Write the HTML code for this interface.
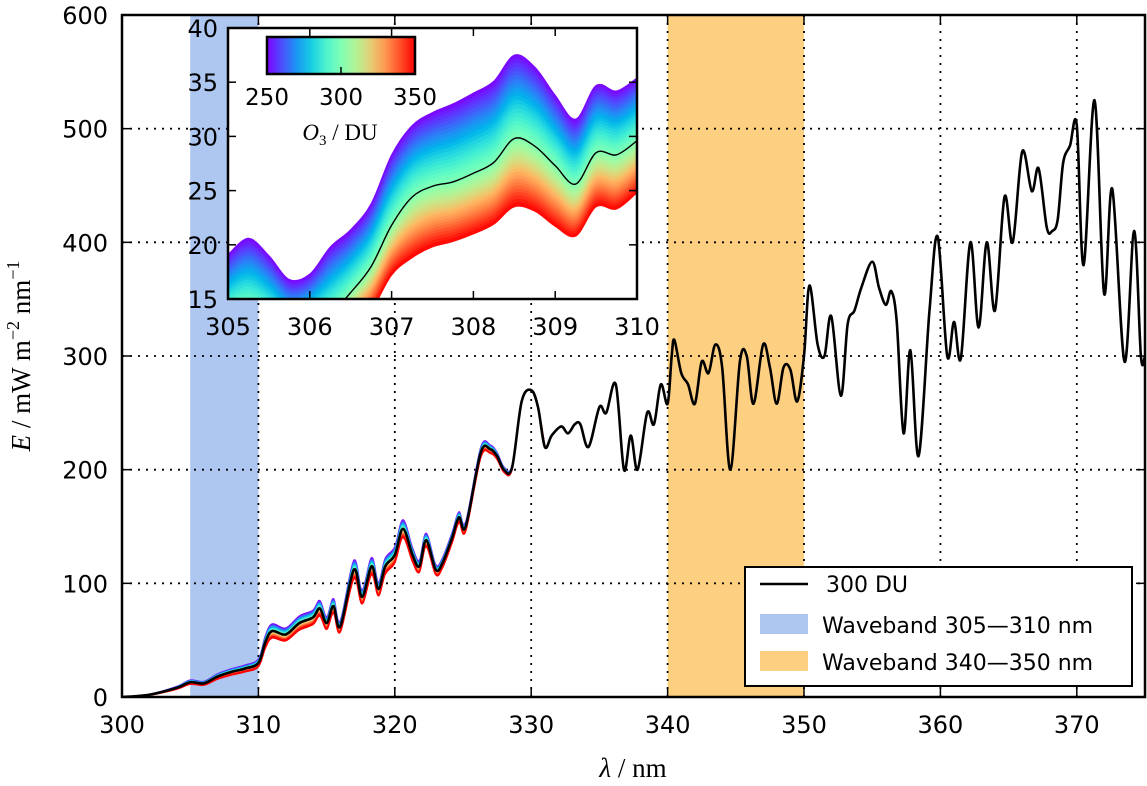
<!DOCTYPE html>
<html><head><meta charset="utf-8">
<style>
html,body{margin:0;padding:0;background:#fff;}
svg{display:block;font-family:"DejaVu Sans","Liberation Sans",sans-serif;}
</style></head>
<body>
<svg id="chart" width="1147" height="786" viewBox="0 0 1147 786" xmlns="http://www.w3.org/2000/svg">
<defs>
<clipPath id="mainClip"><rect x="122" y="15" width="1023" height="682"/></clipPath>
<clipPath id="insetClip"><rect x="228" y="28" width="409" height="271"/></clipPath>
<linearGradient id="cbar" x1="0" x2="1" y1="0" y2="0"></linearGradient>
</defs>
<g id="main"></g>
<g id="inset"></g>
</svg>
<script>
// ---- main chart data (300 DU spectrum) ----
const lambdas = [300,302,304,305,306,307,308,309,310,310.5,311,312,313,314,314.5,315,315.5,316,317,317.6,318.3,318.8,319.3,320,320.6,321.3,321.8,322.3,323,323.5,324.2,324.7,325.2,326.3,327,327.5,328,328.6,329.3,330,330.5,331,331.5,332.2,332.7,333.2,333.6,334.2,335,335.5,336.2,336.8,337.3,337.8,338.5,339,339.5,340,340.3,340.5,341,341.5,342,342.5,343,343.5,344,344.6,345.3,345.8,346.3,347,347.5,348,348.5,349,349.5,350,350.4,351,351.5,352,352.7,353.2,353.7,354.2,355,355.5,356,356.4,356.8,357.3,357.8,358.4,359.2,359.8,360.5,361,361.5,362.2,362.8,363.4,364,364.7,365.3,366,366.7,367.2,367.8,368.2,368.6,369,369.5,370,370.5,371.3,372,372.6,373.5,374.2,374.7,375];
const irradiance = [0,2,8,13,12,18,22,25,30,48,58,55,65,70,78,65,80,62,112,88,115,95,115,125,148,125,115,138,112,118,140,158,150,215,218,212,200,202,260,270,255,220,230,238,232,240,240,220,255,250,275,200,230,200,250,240,275,258,300,314,285,275,258,295,285,310,290,200,295,300,258,310,290,258,290,288,260,300,362,310,300,335,265,328,340,360,383,360,345,357,330,232,305,212,340,405,300,330,298,400,325,400,340,440,400,480,445,465,413,410,420,470,485,503,380,525,355,447,295,410,300,300];
const xTicks = [300,310,320,330,340,350,360,370];
const yTicks = [0,100,200,300,400,500,600];
const bands = [[305,310],[340,350]];
const duRange = [250,350];

// ---- inset data ----
const insetLambdas = [305.0,305.25,305.5,305.75,306,306.25,306.5,306.75,307,307.25,307.5,307.75,308,308.25,308.5,308.75,309,309.25,309.5,309.75,310];
const insetUpper250 = [19.1,20.6,19.0,16.8,17.3,19.8,21.4,23.8,28.3,31.0,32.2,33.0,34.0,35.1,37.5,36.4,33.8,31.6,34.7,34.2,35.4];
const inset300 = [13.6,14.2,13.3,12.0,12.6,13.6,15.6,18.0,21.8,24.4,25.4,25.8,26.6,27.6,29.8,29.1,27.3,25.6,28.5,28.3,29.6];
const insetLower350 = [10.2,11.0,10.2,9.0,9.5,10.4,12.2,13.9,17.2,18.8,19.8,20.3,21.0,21.9,23.5,23.1,21.7,20.8,23.5,23.3,24.8];
const insetXTicks = [305,306,307,308,309,310];
const insetYTicks = [15,20,25,30,35,40];
const cbarTicks = [250,300,350];

const NS="http://www.w3.org/2000/svg";
function mk(tag,attrs,parent){const e=document.createElementNS(NS,tag);for(const k in attrs)e.setAttribute(k,attrs[k]);parent.appendChild(e);return e;}
function rainbow(x){const r=Math.min(1,Math.abs(2*x-0.5)),g=Math.sin(Math.PI*x),b=Math.cos(Math.PI*x/2);return `rgb(${Math.round(r*255)},${Math.round(g*255)},${Math.round(Math.max(0,b)*255)})`;}
function smooth(pts){let d=`M${pts[0][0]},${pts[0][1]}`;for(let i=0;i<pts.length-1;i++){const p0=pts[i-1]||pts[i],p1=pts[i],p2=pts[i+1],p3=pts[i+2]||p2;const c1x=p1[0]+(p2[0]-p0[0])/6,c1y=p1[1]+(p2[1]-p0[1])/6,c2x=p2[0]-(p3[0]-p1[0])/6,c2y=p2[1]-(p3[1]-p1[1])/6;d+=`C${c1x},${c1y} ${c2x},${c2y} ${p2[0]},${p2[1]}`;}return d;}
function smoothRev(pts){const r=pts.slice().reverse();return smooth(r).replace(/^M/,'L');}

// ---- main axes ----
const X0=122,X1=1145,Y0=697,Y1=15;
const xs=v=>X0+(v-300)/(375-300)*(X1-X0);
const ys=v=>Y0-(v-0)/(600-0)*(Y0-Y1);
const main=document.getElementById('main');

bands.forEach((b,i)=>{
  const r=mk('rect',{x:xs(b[0]),y:Y1,width:xs(b[1])-xs(b[0]),height:Y0-Y1,fill:i===0?'#aec7f0':'#fdcf80'},main);
  
  
});
const grid=mk('g',{stroke:'#000','stroke-width':1.8,'stroke-dasharray':'2,6'},main);


xTicks.forEach(t=>{if(t>300)mk('line',{x1:xs(t),x2:xs(t),y1:Y0,y2:Y1},grid);});
yTicks.forEach(t=>{if(t>0&&t<600)mk('line',{x1:X0,x2:X1,y1:ys(t),y2:ys(t)},grid);});

// ozone spread in UV-B part
function factor(l,du){const s=Math.max(0,(330-l)/25)*0.14;return 1-s*(du-300)/50;}
const spread=mk('g',{'clip-path':'url(#mainClip)'},main);


const NB=12;
for(let k=0;k<NB;k++){
  const du0=duRange[0]+(duRange[1]-duRange[0])*k/NB, du1=duRange[0]+(duRange[1]-duRange[0])*(k+1)/NB;
  const idx=lambdas.map((l,i)=>i).filter(i=>lambdas[i]<=331);
  const a=idx.map(i=>[xs(lambdas[i]),ys(irradiance[i]*factor(lambdas[i],du0))]);
  const b=idx.map(i=>[xs(lambdas[i]),ys(irradiance[i]*factor(lambdas[i],du1))]);
  const p=mk('path',{d:smooth(a)+smoothRev(b)+'Z',fill:rainbow(k/(NB-1)),stroke:rainbow(k/(NB-1)),'stroke-width':1.5},spread);
  
  
}
const line=mk('path',{d:smooth(lambdas.map((l,i)=>[xs(l),ys(irradiance[i])])),fill:'none',stroke:'#000','stroke-width':2.6,'clip-path':'url(#mainClip)'},main);



const frame=mk('rect',{x:X0,y:Y1,width:X1-X0,height:Y0-Y1,fill:'none',stroke:'#000','stroke-width':2.5},main);


xTicks.forEach(t=>{
  mk('line',{x1:xs(t),x2:xs(t),y1:Y0,y2:Y0-9,stroke:'#000','stroke-width':1.5},main);
  mk('line',{x1:xs(t),x2:xs(t),y1:Y1,y2:Y1+9,stroke:'#000','stroke-width':1.5},main);
  const tx=mk('text',{x:xs(t),y:733,'font-size':24,'text-anchor':'middle'},main);tx.textContent=t;
  
  
});
yTicks.forEach(t=>{
  mk('line',{x1:X0,x2:X0+9,y1:ys(t),y2:ys(t),stroke:'#000','stroke-width':1.5},main);
  mk('line',{x1:X1,x2:X1-9,y1:ys(t),y2:ys(t),stroke:'#000','stroke-width':1.5},main);
  const tx=mk('text',{x:108,y:ys(t)+9,'font-size':24,'text-anchor':'end'},main);tx.textContent=t;
  
  
});
</script>
<script>
(function(){
const svg=document.getElementById('chart');
svg.insertAdjacentHTML('beforeend',`
<text x="633" y="777" font-family="Liberation Serif,serif" font-size="27" text-anchor="middle"><tspan font-style="italic">λ</tspan> / nm</text>
<text transform="translate(30,356) rotate(-90)" font-family="Liberation Serif,serif" font-size="27" text-anchor="middle"><tspan font-style="italic">E</tspan> / mW m<tspan font-size="18" dy="-11">−2</tspan><tspan dy="11"> nm</tspan><tspan font-size="18" dy="-11">−1</tspan></text>
<g>
<rect x="745" y="567" width="387" height="119" fill="#fff" stroke="#000" stroke-width="2"/>
<line x1="760" y1="584" x2="808" y2="584" stroke="#000" stroke-width="2.4"/>
<text x="826" y="592" font-size="22">300 DU</text>
<rect x="760" y="614" width="48" height="20" fill="#aec7f0"/>
<text x="822" y="633" font-size="22">Waveband 305—310 nm</text>
<rect x="760" y="651" width="48" height="20" fill="#fdcf80"/>
<text x="822" y="670" font-size="22">Waveband 340—350 nm</text>
</g>`);
})();
</script>
<script>
// ---- inset ----
(function(){
const IX0=228,IX1=637,IY0=299,IY1=28;
const ixs=v=>IX0+(v-305)/5*(IX1-IX0);
const iys=v=>IY0-(v-15)/25*(IY0-IY1);
const g=document.getElementById('inset');

mk('rect',{x:IX0,y:IY1,width:IX1-IX0,height:IY0-IY1,fill:'#fff'},g);
const cg=mk('g',{'clip-path':'url(#insetClip)'},g);
function curve(du){return insetLambdas.map((l,i)=>{let v;if(du<=300){const f=(du-250)/50;v=insetUpper250[i]*(1-f)+inset300[i]*f;}else{const f=(du-300)/50;v=inset300[i]*(1-f)+insetLower350[i]*f;}return [ixs(l),iys(v)];});}
const N=40;
for(let k=0;k<N;k++){
  const du0=duRange[0]+100*k/N,du1=duRange[0]+100*(k+1)/N;
  const col=rainbow((k+0.5)/N);
  const p=mk('path',{d:smooth(curve(du0))+smoothRev(curve(du1))+'Z',fill:col,stroke:col,'stroke-width':1},cg);
  
  
}
const bl=mk('path',{d:smooth(insetLambdas.map((l,i)=>[ixs(l),iys(inset300[i])])),fill:'none',stroke:'#000','stroke-width':1.4},cg);


mk('rect',{x:IX0,y:IY1,width:IX1-IX0,height:IY0-IY1,fill:'none',stroke:'#000','stroke-width':2.5},g);
insetXTicks.forEach(t=>{
  mk('line',{x1:ixs(t),x2:ixs(t),y1:IY0,y2:IY0-8,stroke:'#000','stroke-width':1.5},g);
  mk('line',{x1:ixs(t),x2:ixs(t),y1:IY1,y2:IY1+8,stroke:'#000','stroke-width':1.5},g);
  const tx=mk('text',{x:ixs(t),y:IY0+36,'font-size':24,'text-anchor':'middle'},g);tx.textContent=t;
  
  
});
insetYTicks.forEach(t=>{
  mk('line',{x1:IX0,x2:IX0+8,y1:iys(t),y2:iys(t),stroke:'#000','stroke-width':1.5},g);
  mk('line',{x1:IX1,x2:IX1-8,y1:iys(t),y2:iys(t),stroke:'#000','stroke-width':1.5},g);
  const tx=mk('text',{x:IX0-10,y:iys(t)+9,'font-size':24,'text-anchor':'end'},g);tx.textContent=t;
  
  
});
const grad=document.getElementById('cbar');
for(let i=0;i<=10;i++){mk('stop',{offset:(i*10)+'%','stop-color':rainbow(i/10)},grad);}
const CB0=267,CB1=415;
const cb=mk('rect',{x:CB0,y:37,width:CB1-CB0,height:37,fill:'url(#cbar)',stroke:'#000','stroke-width':2.5},g);


cbarTicks.forEach(t=>{
  const x=CB0+(t-250)/100*(CB1-CB0);
  if(t>250&&t<350)mk('line',{x1:x,x2:x,y1:74,y2:67,stroke:'#000','stroke-width':1.5},g);
  const tx=mk('text',{x:x,y:105,'font-size':23,'text-anchor':'middle'},g);tx.textContent=t;
  
  
});
const ot=mk('text',{x:340,y:140,'font-size':23,'text-anchor':'middle','font-family':'Liberation Serif,serif'},g);
ot.innerHTML='<tspan font-style="italic">O</tspan><tspan font-size="15" dy="5">3</tspan><tspan dy="-5"> / DU</tspan>';


})();
</script>
</body></html>
